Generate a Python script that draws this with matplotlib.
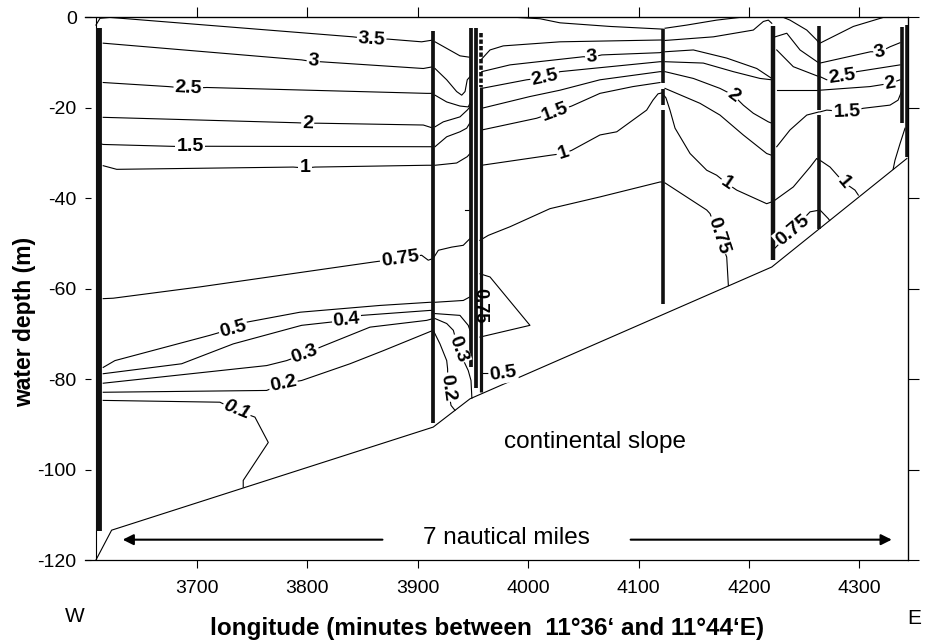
import matplotlib
matplotlib.use("Agg")
import matplotlib.pyplot as plt

plt.rcParams["font.family"] = ["Liberation Sans", "DejaVu Sans"]
plt.rcParams["axes.unicode_minus"] = False

# axis ticks
X_TICKS = [3700, 3800, 3900, 4000, 4100, 4200, 4300]
Y_TICKS = [0, -20, -40, -60, -80, -100, -120]

# isolines, one list per level: segments of (longitude, depth) points
ISO_4_0 = [
    [(3989.6, 0.0), (4010.7, -0.3), (4028.8, -1.2), (4074.1, -2.0), (4122.4, -2.6)],
    [(4123.9, -2.4), (4143.6, -1.7), (4170.7, -0.6), (4191.8, 0.0)],
]
ISO_3_5 = [
    [(3608.5, -1.7), (3612.2, -0.2), (3621.2, 0.0), (3841.3, -4.3), (3858.2, -4.8),
     (3873.0, -4.8), (3903.5, -5.4), (3914.0, -5.0)],
    [(3915.6, -5.4), (3938.2, -8.5), (3946.7, -8.8)],
    [(3957.9, -9.2), (3965.4, -7.2), (3977.4, -6.3), (4028.8, -5.4), (4119.4, -5.0), (4122.4, -5.0)],
    [(4123.9, -5.1), (4167.7, -4.3), (4203.9, -2.8), (4213.0, -0.9), (4217.5, -0.6), (4220.6, -1.3)],
    [(4225.1, 0.0), (4231.1, 0.0), (4237.1, -0.6), (4252.3, -2.8), (4261.3, -5.0), (4263.4, -5.7)],
    [(4264.3, -5.7), (4294.5, -2.0), (4321.7, 0.0)],
]
ISO_3_0 = [
    [(3615.1, -5.7), (3794.8, -9.4), (3805.3, -9.8), (3811.4, -9.8), (3905.0, -11.3), (3914.0, -10.9)],
    [(3915.6, -11.3), (3926.2, -13.8), (3935.2, -16.4), (3939.8, -17.2), (3942.8, -16.4),
     (3944.8, -13.8), (3947.3, -13.1)],
    [(3957.9, -12.0), (3983.5, -10.5), (4049.9, -8.7), (4057.5, -8.8), (4066.6, -8.3),
     (4119.4, -7.8), (4122.4, -7.6)],
    [(4123.9, -7.6), (4149.6, -7.2), (4179.8, -9.0), (4207.0, -11.3), (4220.6, -13.5)],
    [(4223.6, -4.3), (4234.2, -3.5), (4246.2, -7.2), (4263.4, -10.1)],
    [(4264.3, -10.1), (4310.0, -7.6), (4318.7, -7.6), (4327.7, -6.5), (4336.8, -5.6)],
]
ISO_2_5 = [
    [(3615.1, -14.4), (3674.0, -15.3), (3692.1, -15.7), (3708.8, -15.5), (3908.1, -16.8), (3914.0, -16.8)],
    [(3915.6, -17.2), (3926.2, -18.7), (3938.2, -19.6), (3945.7, -19.8), (3947.3, -19.0)],
    [(3957.9, -15.7), (3998.6, -13.8), (4015.2, -13.3), (4028.8, -12.0), (4119.4, -9.8), (4122.4, -9.8)],
    [(4123.9, -9.8), (4158.6, -10.1), (4185.8, -12.0), (4210.0, -13.5), (4220.6, -13.8)],
    [(4225.1, -7.2), (4240.1, -10.9), (4263.4, -13.1)],
    [(4264.3, -13.1), (4270.4, -13.8), (4284.0, -13.1), (4297.6, -12.0), (4336.8, -10.5)],
]
ISO_2_0 = [
    [(3615.1, -22.1), (3790.3, -23.3), (3800.3, -23.4), (3809.9, -23.4), (3905.0, -23.8), (3914.0, -24.5)],
    [(3915.6, -24.2), (3923.1, -23.1), (3938.2, -22.0), (3944.8, -20.5), (3947.3, -19.8)],
    [(3957.9, -20.1), (4001.6, -17.5), (4028.8, -16.1), (4065.0, -13.8), (4119.4, -12.0), (4122.4, -12.0)],
    [(4123.9, -12.0), (4149.6, -13.5), (4173.7, -15.7), (4185.8, -17.2), (4194.8, -19.4),
     (4203.9, -21.2), (4217.5, -23.1), (4220.6, -23.4)],
    [(4225.1, -16.1), (4263.4, -16.1)],
    [(4264.3, -16.1), (4309.6, -15.3), (4327.7, -14.6), (4336.8, -13.8)],
]
ISO_1_5 = [
    [(3609.1, -27.7), (3615.1, -28.1), (3675.5, -28.5), (3693.7, -28.6), (3708.8, -28.5),
     (3908.1, -28.6), (3914.0, -28.6)],
    [(3915.6, -28.6), (3926.2, -26.4), (3938.2, -25.3), (3944.3, -24.5), (3947.3, -23.3)],
    [(3957.9, -24.9), (4007.7, -22.3), (4024.3, -20.9), (4039.4, -19.6), (4065.0, -16.8),
     (4094.9, -15.3), (4119.4, -14.4)],
    [(4123.9, -15.7), (4155.6, -19.0), (4173.7, -21.6), (4194.8, -26.0), (4216.0, -30.1), (4220.6, -30.5)],
    [(4225.1, -28.6), (4237.1, -24.9), (4252.3, -21.6), (4263.4, -20.9)],
    [(4264.3, -20.9), (4270.4, -20.5), (4288.5, -20.9), (4303.5, -20.1), (4327.7, -19.4),
     (4335.0, -18.3), (4338.3, -16.3)],
]
ISO_1_0 = [
    [(3615.1, -32.8), (3627.3, -33.6), (3787.2, -33.1), (3797.8, -33.3), (3806.9, -33.1),
     (3908.1, -32.7), (3914.0, -32.7)],
    [(3915.6, -32.7), (3935.2, -32.2), (3944.8, -30.8), (3947.3, -30.1)],
    [(3957.9, -32.7), (4019.7, -30.5), (4031.8, -30.1), (4039.4, -29.4), (4065.0, -26.0),
     (4080.2, -25.3), (4107.3, -20.5), (4113.0, -18.3), (4117.6, -16.9), (4121.2, -16.7),
     (4124.8, -17.8), (4128.4, -20.5), (4133.0, -24.5), (4146.6, -30.1), (4161.7, -33.8),
     (4170.7, -34.9), (4179.8, -36.7), (4188.9, -38.2), (4216.0, -41.2), (4220.6, -40.8)],
    [(4223.6, -40.4), (4240.1, -37.5), (4255.3, -33.1), (4261.3, -31.2), (4263.4, -31.6)],
    [(4264.3, -31.6), (4273.4, -33.1), (4285.4, -36.4), (4296.0, -38.2), (4299.0, -39.3)],
    [(4341.3, -24.5), (4336.8, -27.9), (4332.2, -31.6), (4330.5, -33.6)],
]
ISO_0_75 = [
    [(3615.1, -62.2), (3624.2, -62.1), (3702.7, -59.6), (3859.7, -54.1), (3883.9, -53.3),
     (3903.5, -52.6), (3909.5, -53.7), (3914.0, -53.3)],
    [(3914.0, -53.3), (3918.6, -51.5), (3930.7, -50.8), (3941.2, -50.4), (3945.7, -49.3), (3947.3, -48.9)],
    [(3956.3, -49.3), (3963.9, -48.2), (3983.5, -46.3), (4019.7, -42.3), (4065.0, -39.7),
     (4119.4, -36.4), (4122.4, -36.4)],
    [(4123.9, -36.6), (4161.7, -42.6), (4164.7, -43.4), (4172.2, -48.2), (4179.8, -53.0), (4181.3, -59.3)],
    [(4223.6, -51.0), (4239.4, -47.1), (4255.3, -43.0), (4264.3, -42.6), (4271.8, -44.5), (4273.0, -44.9)],
]
ISO_0_5 = [
    [(3615.1, -77.4), (3625.7, -75.9), (3711.8, -70.3), (3732.9, -68.8), (3745.0, -67.4),
     (3793.3, -65.2), (3865.8, -63.7), (3911.1, -63.0), (3914.0, -63.0)],
    [(3915.6, -63.0), (3941.2, -62.6), (3947.3, -61.8)],
    [(3956.3, -56.7), (3965.4, -57.4), (4001.6, -68.1), (3956.3, -70.7)],
    [(3957.9, -78.7), (3963.6, -78.7)],
]
ISO_0_4 = [
    [(3615.1, -78.8), (3686.1, -76.6), (3732.9, -72.2), (3794.8, -68.1), (3835.6, -67.0),
     (3849.2, -65.9), (3911.1, -64.8), (3914.0, -64.8)],
    [(3915.6, -65.5), (3938.2, -65.9), (3945.7, -68.1), (3947.3, -69.2)],
]
ISO_0_3 = [
    [(3615.1, -80.9), (3763.1, -77.0), (3781.2, -75.9), (3797.8, -74.4), (3813.0, -72.8),
     (3856.7, -68.5), (3908.1, -67.0), (3914.0, -66.6)],
    [(3915.6, -66.6), (3926.2, -67.7), (3932.2, -69.2), (3936.7, -73.3), (3942.8, -76.6),
     (3945.7, -78.1), (3948.2, -80.3), (3949.0, -84.2)],
]
ISO_0_2 = [
    [(3615.1, -82.9), (3763.1, -82.5), (3778.2, -81.0), (3794.8, -80.3), (3838.6, -76.6),
     (3868.8, -73.7), (3914.0, -69.2)],
    [(3914.0, -69.2), (3920.1, -72.2), (3926.2, -75.9), (3927.0, -77.7), (3927.3, -81.8),
     (3930.1, -85.8), (3933.7, -86.9)],
]
ISO_0_1 = [
    [(3615.1, -84.7), (3720.8, -85.1), (3736.0, -86.9), (3752.5, -88.4), (3764.6, -94.0),
     (3741.9, -102.4), (3741.9, -103.9)],
]
ISO_MISC = [
    [(3942.8, -42.6), (3947.3, -42.6)],
]

# contour labels: text, longitude, depth, angle
LABELS = [
    ("3.5", 3858.2, -4.8, -4), ("3", 3805.3, -9.7, -5), ("2.5", 3692.1, -15.6, -3),
    ("2", 3800.3, -23.4, -2), ("1.5", 3693.7, -28.6, 0), ("1", 3797.8, -33.3, 0),
    ("0.75", 3883.9, -53.4, 8), ("0.5", 3732.9, -68.9, 15), ("0.4", 3835.6, -67.0, 6),
    ("0.3", 3797.8, -74.4, 20), ("0.2", 3778.2, -81.1, 12), ("0.1", 3736.0, -86.9, -22),
    ("0.3", 3936.7, -73.3, -70), ("0.2", 3927.3, -81.8, -82), ("0.5", 3977.4, -78.8, 8),
    ("3", 4057.5, -8.8, 5), ("2.5", 4015.2, -13.3, 12), ("1.5", 4024.3, -20.9, 20),
    ("1", 4031.8, -30.1, 18), ("2", 4185.8, -17.2, -36), ("1", 4179.8, -36.7, -34),
    ("0.75", 4172.2, -48.2, -72), ("0.75", 4239.4, -47.1, 40), ("3", 4318.7, -7.6, 15),
    ("2.5", 4284.0, -13.1, 8), ("2", 4327.7, -14.6, 10), ("1.5", 4288.5, -20.9, 2),
    ("1", 4285.4, -36.4, -50),
]
CLUSTER_LABEL = ("0.75", 3955.9, -63.7, -90)

# CTD stations: longitude and sampled depth ranges
STATION_LON = [3611.3, 3914.0, 3947.9, 3952.7, 3957.0, 4122.4, 4222.0, 4263.4, 4338.3, 4343.2]
STATION_SPANS = [
    [(-2.4, -113.5)],
    [(-3.1, -89.8)],
    [(-2.3, -77.3)],
    [(-2.3, -82.0)],
    [(-15.4, -82.9)],
    [(-2.6, -14.4), (-15.9, -19.4), (-20.5, -63.3)],
    [(-2.0, -53.7)],
    [(-2.0, -20.5), (-21.6, -46.7)],
    [(-2.2, -23.4)],
    [(-1.7, -30.8)],
]
DASHED_SPAN = (3957.0, -3.5, -15.4)

# sea floor
SEABED_LON = [3608.5, 3622.7, 3914.0, 3947.3, 4220.6, 4343.0]
SEABED_DEPTH = [-120.0, -113.4, -90.6, -84.35, -55.2, -31.2]
LEFT_EDGE_LON = 3608.5

ISOLINES = [ISO_4_0, ISO_3_5, ISO_3_0, ISO_2_5, ISO_2_0, ISO_1_5, ISO_1_0,
            ISO_0_75, ISO_0_5, ISO_0_4, ISO_0_3, ISO_0_2, ISO_0_1, ISO_MISC]
STATION_LW = [4.2, 2.7, 2.7, 2.7, 2.3, 2.6, 3.2, 2.6, 2.6, 2.6]


fig = plt.figure(figsize=(9.29, 6.42), dpi=100)
ax = fig.add_axes([0.0915, 0.1277, 0.8859, 0.8452])
ax.set_xlim(3598.6, 4344.0)
ax.set_ylim(-120, 0)

for level in ISOLINES:
    for seg in level:
        xs = [p[0] for p in seg]
        ys = [p[1] for p in seg]
        ax.plot(xs, ys, color="black", lw=0.8, zorder=2)

ax.plot(SEABED_LON, SEABED_DEPTH, color="black", lw=0.8, zorder=2)
ax.plot([LEFT_EDGE_LON, LEFT_EDGE_LON], [0, -120], color="black", lw=0.8, zorder=2)

for lon, spans, lw in zip(STATION_LON, STATION_SPANS, STATION_LW):
    for top, bottom in spans:
        ax.plot([lon, lon], [top, bottom], color="#111111", lw=lw,
                solid_capstyle="butt", zorder=3)
ax.plot([DASHED_SPAN[0]] * 2, DASHED_SPAN[1:], color="#111111", lw=2.6,
        linestyle=(0, (1.2, 0.6)), zorder=3)

for txt, lon, dep, ang in LABELS:
    ax.text(lon, dep, txt, fontsize=14, fontweight="bold",
            style="italic" if txt == "0.1" else "normal",
            ha="center", va="center", rotation=ang, rotation_mode="anchor",
            bbox=dict(boxstyle="square,pad=0.06", fc="white", ec="none"), zorder=4)
ax.text(CLUSTER_LABEL[1], CLUSTER_LABEL[2], CLUSTER_LABEL[0], fontsize=13,
        fontweight="bold", ha="center", va="center", rotation=CLUSTER_LABEL[3], zorder=4)

ax.text(4060.5, -94.0, "continental slope", fontsize=17.5, ha="center", va="center")
ax.text(3980.0, -115.1, "7 nautical miles", fontsize=17.5, ha="center", va="center")
arrow = dict(arrowstyle="-|>", color="black", lw=1.5, mutation_scale=16, shrinkA=0, shrinkB=0)
ax.annotate("", xy=(3632.7, -115.5), xytext=(3868.0, -115.5), arrowprops=arrow)
ax.annotate("", xy=(4329.3, -115.5), xytext=(4092.8, -115.5), arrowprops=arrow)

# axes styling
ax.spines["left"].set_visible(False)
for side in ("top", "right", "bottom"):
    ax.spines[side].set_linewidth(0.9)
ax.set_xticks(X_TICKS)
ax.set_yticks(Y_TICKS)
ax.tick_params(axis="x", direction="out", length=5.5, width=0.8, labelsize=14, pad=9, top=False)
ax.tick_params(axis="y", direction="in", length=4.5, width=0.8, labelsize=14, pad=6, right=False)

secx = ax.secondary_xaxis("top")
secx.set_xticks(X_TICKS)
secx.tick_params(direction="out", length=7.5, width=0.8, labeltop=False)
secy = ax.secondary_yaxis("right")
secy.set_yticks(Y_TICKS)
secy.tick_params(direction="out", length=8, width=0.8, labelright=False)

fig.text(487 / 929, 1 - 628 / 642, "longitude (minutes between  11°36‘ and 11°44‘E)",
         fontsize=17.5, fontweight="bold", ha="center", va="center")
fig.text(25 / 929, 1 - 322 / 642, "water depth (m)", fontsize=16.5, fontweight="bold",
         ha="center", va="center", rotation=90)
fig.text(75 / 929, 1 - 617 / 642, "W", fontsize=15, ha="center", va="center")
fig.text(914 / 929, 1 - 618 / 642, "E", fontsize=15, ha="center", va="center")

fig.savefig("out.png", dpi=100)
